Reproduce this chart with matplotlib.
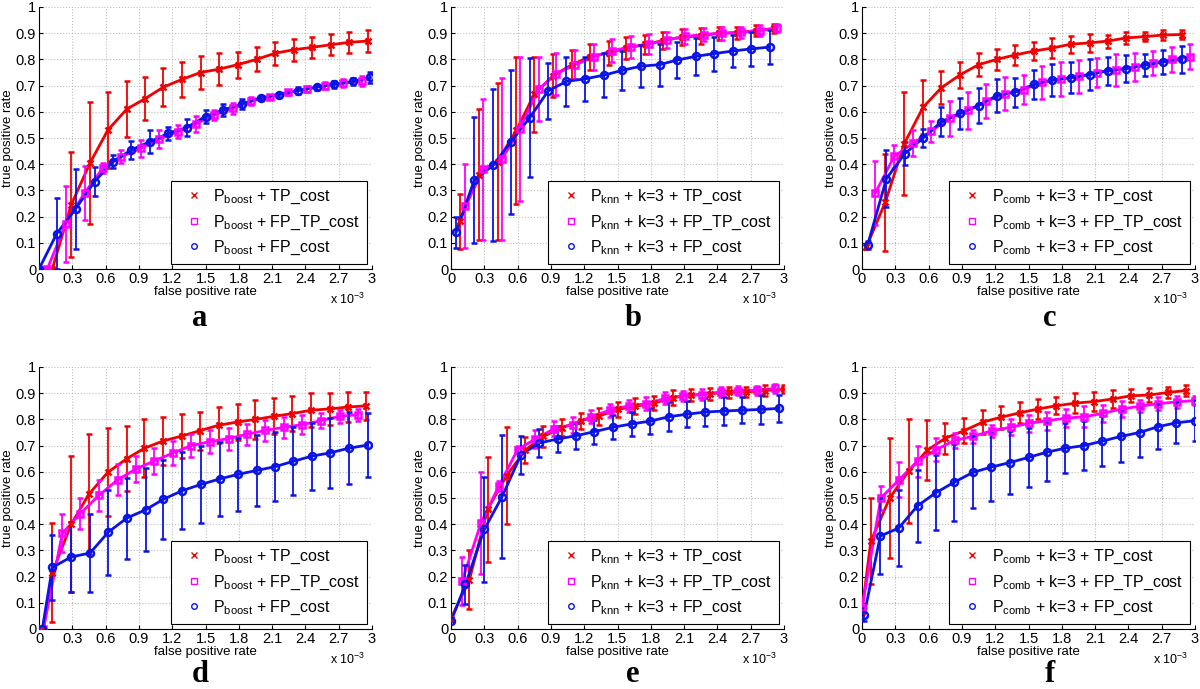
import matplotlib
matplotlib.use("Agg")
import matplotlib.pyplot as plt
from matplotlib.lines import Line2D

plt.rcParams['font.family'] = ['Liberation Sans', 'DejaVu Sans']
plt.rcParams['mathtext.default'] = 'regular'

# ---- data (x in units of 1e-3) ----
# panel a
a_tp_x = [0.12, 0.29, 0.46, 0.62, 0.79, 0.955, 1.12, 1.29, 1.455, 1.625, 1.79, 1.96, 2.13, 2.30, 2.46, 2.63, 2.79, 2.96]
a_tp_y = [0.0, 0.245, 0.405, 0.53, 0.61, 0.65, 0.694, 0.724, 0.75, 0.763, 0.78, 0.80, 0.824, 0.837, 0.846, 0.856, 0.865, 0.87]
a_tp_e = [0.0, 0.2, 0.234, 0.145, 0.108, 0.082, 0.073, 0.067, 0.063, 0.06, 0.05, 0.046, 0.044, 0.042, 0.04, 0.04, 0.039, 0.043]
a_fptp_x = [0.075, 0.24, 0.41, 0.577, 0.74, 0.915, 1.08, 1.25, 1.41, 1.58, 1.75, 1.91, 2.08, 2.245, 2.41, 2.58, 2.74, 2.91]
a_fptp_y = [0.0, 0.173, 0.29, 0.386, 0.428, 0.46, 0.495, 0.524, 0.553, 0.588, 0.613, 0.64, 0.658, 0.675, 0.687, 0.70, 0.709, 0.718]
a_fptp_e = [0.0, 0.145, 0.104, 0.02, 0.025, 0.034, 0.034, 0.025, 0.03, 0.02, 0.02, 0.015, 0.008, 0.01, 0.01, 0.012, 0.015, 0.018]
a_fp_x = [0.0, 0.16, 0.33, 0.50, 0.665, 0.83, 1.0, 1.166, 1.33, 1.5, 1.66, 1.83, 2.0, 2.16, 2.33, 2.5, 2.66, 2.83, 2.985]
a_fp_y = [0.0, 0.135, 0.23, 0.333, 0.41, 0.454, 0.486, 0.518, 0.54, 0.582, 0.607, 0.63, 0.654, 0.665, 0.681, 0.694, 0.705, 0.716, 0.731]
a_fp_e = [0.0, 0.135, 0.153, 0.055, 0.026, 0.034, 0.043, 0.024, 0.032, 0.024, 0.022, 0.02, 0.008, 0.008, 0.012, 0.01, 0.014, 0.014, 0.022]

# panel b
b_tp_x = [0.08, 0.25, 0.42, 0.59, 0.75, 0.92, 1.09, 1.25, 1.42, 1.58, 1.75, 1.91, 2.08, 2.25, 2.41, 2.58, 2.75, 2.91]
b_tp_y = [0.183, 0.36, 0.41, 0.53, 0.667, 0.738, 0.78, 0.81, 0.825, 0.843, 0.857, 0.872, 0.885, 0.89, 0.90, 0.902, 0.91, 0.918]
b_tp_e = [0.105, 0.25, 0.30, 0.28, 0.143, 0.083, 0.055, 0.05, 0.045, 0.043, 0.038, 0.033, 0.03, 0.03, 0.025, 0.023, 0.02, 0.018]
b_fptp_x = [0.13, 0.29, 0.46, 0.62, 0.79, 0.95, 1.12, 1.29, 1.45, 1.62, 1.78, 1.95, 2.11, 2.28, 2.44, 2.61, 2.78, 2.94]
b_fptp_y = [0.24, 0.38, 0.42, 0.535, 0.687, 0.745, 0.78, 0.81, 0.833, 0.848, 0.858, 0.875, 0.888, 0.895, 0.90, 0.903, 0.91, 0.92]
b_fptp_e = [0.16, 0.27, 0.31, 0.275, 0.122, 0.08, 0.055, 0.05, 0.043, 0.043, 0.038, 0.03, 0.028, 0.025, 0.025, 0.022, 0.02, 0.015]
b_fp_x = [0.045, 0.21, 0.38, 0.54, 0.71, 0.876, 1.04, 1.21, 1.38, 1.54, 1.71, 1.88, 2.04, 2.21, 2.37, 2.54, 2.70, 2.87]
b_fp_y = [0.14, 0.34, 0.396, 0.486, 0.578, 0.68, 0.716, 0.726, 0.74, 0.758, 0.774, 0.78, 0.798, 0.812, 0.822, 0.832, 0.84, 0.847]
b_fp_e = [0.06, 0.24, 0.29, 0.275, 0.228, 0.108, 0.095, 0.085, 0.085, 0.075, 0.08, 0.08, 0.07, 0.07, 0.065, 0.06, 0.065, 0.065]

# panel c
c_tp_x = [0.04, 0.21, 0.38, 0.55, 0.715, 0.88, 1.05, 1.215, 1.38, 1.55, 1.71, 1.88, 2.05, 2.215, 2.38, 2.55, 2.71, 2.88]
c_tp_y = [0.085, 0.255, 0.478, 0.617, 0.692, 0.74, 0.78, 0.80, 0.817, 0.832, 0.843, 0.858, 0.863, 0.87, 0.882, 0.887, 0.893, 0.895]
c_tp_e = [0.01, 0.185, 0.197, 0.103, 0.062, 0.05, 0.045, 0.04, 0.037, 0.033, 0.037, 0.033, 0.033, 0.025, 0.022, 0.018, 0.018, 0.018]
c_fptp_x = [0.12, 0.29, 0.46, 0.62, 0.79, 0.955, 1.12, 1.29, 1.455, 1.62, 1.79, 1.955, 2.12, 2.29, 2.455, 2.62, 2.79, 2.955]
c_fptp_y = [0.29, 0.43, 0.48, 0.525, 0.575, 0.605, 0.64, 0.668, 0.685, 0.712, 0.725, 0.735, 0.75, 0.76, 0.77, 0.787, 0.80, 0.81]
c_fptp_e = [0.122, 0.045, 0.05, 0.04, 0.067, 0.07, 0.065, 0.063, 0.055, 0.062, 0.065, 0.063, 0.057, 0.06, 0.053, 0.045, 0.048, 0.048]
c_fp_x = [0.05, 0.22, 0.385, 0.55, 0.715, 0.88, 1.05, 1.215, 1.38, 1.55, 1.715, 1.88, 2.05, 2.215, 2.38, 2.55, 2.71, 2.88]
c_fp_y = [0.09, 0.345, 0.44, 0.50, 0.562, 0.594, 0.624, 0.662, 0.675, 0.705, 0.722, 0.73, 0.742, 0.757, 0.765, 0.778, 0.79, 0.80]
c_fp_e = [0.015, 0.11, 0.043, 0.033, 0.055, 0.058, 0.065, 0.062, 0.055, 0.055, 0.062, 0.06, 0.058, 0.053, 0.05, 0.043, 0.045, 0.053]

# panel d
d_tp_x = [0.04, 0.12, 0.29, 0.45, 0.62, 0.79, 0.95, 1.12, 1.29, 1.45, 1.62, 1.79, 1.95, 2.12, 2.28, 2.45, 2.62, 2.78, 2.95]
d_tp_y = [0.0, 0.215, 0.40, 0.515, 0.598, 0.65, 0.69, 0.718, 0.737, 0.757, 0.778, 0.79, 0.80, 0.812, 0.822, 0.835, 0.84, 0.847, 0.852]
d_tp_e = [0.0, 0.19, 0.26, 0.23, 0.168, 0.125, 0.11, 0.093, 0.083, 0.073, 0.068, 0.07, 0.075, 0.068, 0.068, 0.065, 0.06, 0.058, 0.053]
d_fptp_x = [0.04, 0.21, 0.37, 0.54, 0.71, 0.87, 1.04, 1.21, 1.37, 1.54, 1.71, 1.87, 2.04, 2.21, 2.37, 2.54, 2.71, 2.87]
d_fptp_y = [0.0, 0.365, 0.44, 0.51, 0.57, 0.61, 0.642, 0.672, 0.70, 0.715, 0.727, 0.743, 0.758, 0.77, 0.78, 0.795, 0.812, 0.818]
d_fptp_e = [0.0, 0.073, 0.06, 0.06, 0.06, 0.05, 0.05, 0.047, 0.043, 0.043, 0.042, 0.04, 0.04, 0.04, 0.035, 0.028, 0.025, 0.023]
d_fp_x = [0.03, 0.12, 0.29, 0.46, 0.625, 0.79, 0.96, 1.12, 1.29, 1.46, 1.63, 1.79, 1.96, 2.13, 2.29, 2.46, 2.62, 2.79, 2.96]
d_fp_y = [0.0, 0.235, 0.275, 0.29, 0.37, 0.423, 0.455, 0.495, 0.528, 0.552, 0.573, 0.59, 0.605, 0.62, 0.64, 0.66, 0.672, 0.69, 0.702]
d_fp_e = [0.0, 0.125, 0.135, 0.148, 0.162, 0.155, 0.158, 0.15, 0.148, 0.148, 0.14, 0.138, 0.135, 0.133, 0.13, 0.128, 0.135, 0.138, 0.123]

# panel e
e_tp_x = [0.0, 0.166, 0.33, 0.50, 0.67, 0.83, 1.0, 1.17, 1.33, 1.5, 1.66, 1.83, 2.0, 2.16, 2.33, 2.5, 2.66, 2.83, 3.0]
e_tp_y = [0.04, 0.188, 0.457, 0.585, 0.683, 0.735, 0.768, 0.795, 0.812, 0.838, 0.85, 0.862, 0.883, 0.892, 0.898, 0.903, 0.905, 0.91, 0.915]
e_tp_e = [0.0, 0.113, 0.2, 0.185, 0.048, 0.04, 0.033, 0.03, 0.033, 0.028, 0.03, 0.028, 0.028, 0.023, 0.023, 0.022, 0.02, 0.02, 0.015]
e_fptp_x = [0.1, 0.27, 0.43, 0.6, 0.76, 0.93, 1.1, 1.26, 1.43, 1.6, 1.76, 1.93, 2.09, 2.26, 2.43, 2.59, 2.76, 2.92]
e_fptp_y = [0.183, 0.405, 0.545, 0.685, 0.725, 0.765, 0.78, 0.81, 0.835, 0.852, 0.86, 0.88, 0.89, 0.895, 0.905, 0.91, 0.912, 0.918]
e_fptp_e = [0.093, 0.195, 0.02, 0.013, 0.035, 0.03, 0.03, 0.025, 0.025, 0.023, 0.025, 0.023, 0.02, 0.02, 0.02, 0.018, 0.017, 0.017]
e_fp_x = [0.0, 0.13, 0.30, 0.46, 0.63, 0.795, 0.96, 1.13, 1.29, 1.46, 1.63, 1.79, 1.96, 2.13, 2.29, 2.46, 2.62, 2.79, 2.955]
e_fp_y = [0.03, 0.17, 0.38, 0.505, 0.665, 0.71, 0.725, 0.738, 0.753, 0.77, 0.783, 0.793, 0.81, 0.82, 0.828, 0.832, 0.835, 0.838, 0.842]
e_fp_e = [0.0, 0.073, 0.2, 0.235, 0.073, 0.055, 0.05, 0.05, 0.045, 0.045, 0.047, 0.05, 0.055, 0.05, 0.053, 0.053, 0.05, 0.055, 0.053]

# panel f
f_tp_x = [0.0, 0.08, 0.25, 0.42, 0.59, 0.75, 0.92, 1.09, 1.25, 1.42, 1.59, 1.75, 1.92, 2.09, 2.26, 2.42, 2.59, 2.76, 2.92]
f_tp_y = [0.07, 0.335, 0.50, 0.603, 0.683, 0.728, 0.757, 0.79, 0.808, 0.825, 0.84, 0.852, 0.862, 0.868, 0.878, 0.89, 0.893, 0.903, 0.91]
f_tp_e = [0.0, 0.165, 0.23, 0.198, 0.113, 0.06, 0.048, 0.045, 0.043, 0.04, 0.037, 0.033, 0.037, 0.037, 0.033, 0.025, 0.027, 0.022, 0.02]
f_fptp_x = [0.0, 0.17, 0.335, 0.5, 0.67, 0.835, 1.0, 1.17, 1.34, 1.5, 1.67, 1.84, 2.0, 2.17, 2.34, 2.5, 2.67, 2.84, 3.0]
f_fptp_y = [0.08, 0.50, 0.57, 0.64, 0.685, 0.72, 0.735, 0.757, 0.77, 0.785, 0.795, 0.805, 0.81, 0.823, 0.84, 0.85, 0.86, 0.867, 0.872]
f_fptp_e = [0.0, 0.045, 0.068, 0.058, 0.045, 0.03, 0.025, 0.023, 0.03, 0.033, 0.035, 0.035, 0.04, 0.033, 0.03, 0.023, 0.025, 0.023, 0.018]
f_fp_x = [0.02, 0.165, 0.33, 0.5, 0.665, 0.83, 1.0, 1.165, 1.33, 1.5, 1.665, 1.83, 2.0, 2.165, 2.33, 2.5, 2.665, 2.83, 3.0]
f_fp_y = [0.055, 0.355, 0.385, 0.47, 0.52, 0.56, 0.598, 0.618, 0.635, 0.655, 0.675, 0.69, 0.70, 0.717, 0.735, 0.75, 0.772, 0.787, 0.795]
f_fp_e = [0.025, 0.145, 0.145, 0.138, 0.143, 0.148, 0.138, 0.13, 0.12, 0.113, 0.11, 0.095, 0.093, 0.095, 0.098, 0.095, 0.085, 0.078, 0.078]

x_ticks = [0, 0.3, 0.6, 0.9, 1.2, 1.5, 1.8, 2.1, 2.4, 2.7, 3]
x_tick_labels = ['0', '0.3', '0.6', '0.9', '1.2', '1.5', '1.8', '2.1', '2.4', '2.7', '3']
y_ticks = [0, 0.1, 0.2, 0.3, 0.4, 0.5, 0.6, 0.7, 0.8, 0.9, 1]
y_tick_labels = ['0', '0.1', '0.2', '0.3', '0.4', '0.5', '0.6', '0.7', '0.8', '0.9', '1']

cost_names = ['TP_cost', 'FP_TP_cost', 'FP_cost']
prefixes = {
    'boost': r'P$_{boost}$ + ',
    'knn': r'P$_{knn}$ + k=3 + ',
    'comb': r'P$_{comb}$ + k=3 + ',
}

RED = '#f00000'
MAG = '#ff00ff'
BLUE = '#0a14e6'
styles = [(RED, 'x'), (MAG, 's'), (BLUE, 'o')]

panels = [
    ('a', 'boost', [(a_tp_x, a_tp_y, a_tp_e), (a_fptp_x, a_fptp_y, a_fptp_e), (a_fp_x, a_fp_y, a_fp_e)]),
    ('b', 'knn', [(b_tp_x, b_tp_y, b_tp_e), (b_fptp_x, b_fptp_y, b_fptp_e), (b_fp_x, b_fp_y, b_fp_e)]),
    ('c', 'comb', [(c_tp_x, c_tp_y, c_tp_e), (c_fptp_x, c_fptp_y, c_fptp_e), (c_fp_x, c_fp_y, c_fp_e)]),
    ('d', 'boost', [(d_tp_x, d_tp_y, d_tp_e), (d_fptp_x, d_fptp_y, d_fptp_e), (d_fp_x, d_fp_y, d_fp_e)]),
    ('e', 'knn', [(e_tp_x, e_tp_y, e_tp_e), (e_fptp_x, e_fptp_y, e_fptp_e), (e_fp_x, e_fp_y, e_fp_e)]),
    ('f', 'comb', [(f_tp_x, f_tp_y, f_tp_e), (f_fptp_x, f_fptp_y, f_fptp_e), (f_fp_x, f_fp_y, f_fp_e)]),
]

W, H = 1200, 689
fig = plt.figure(figsize=(W / 100, H / 100), dpi=100)

lefts = [39, 451, 862]
bottoms = [269, 629]
ax_w, ax_h = 333, 262
letter_x = [200, 633, 1050]
letter_y = [318, 674]

for i, (letter, pref, series) in enumerate(panels):
    row, col = divmod(i, 3)
    ax = fig.add_axes([lefts[col] / W, (H - bottoms[row]) / H, ax_w / W, ax_h / H])

    for (xs, ys, es), (color, mk) in zip(series, styles):
        ax.plot(xs, ys, '-', color=color, lw=2.0, zorder=3)
        ax.errorbar(xs, ys, yerr=es, fmt=mk, color=color, ecolor=color,
                    elinewidth=1.3, capsize=2.5, capthick=1.3,
                    ms=5, mfc='none', mew=1.8, zorder=3)

    ax.set_xlim(0, 3)
    ax.set_ylim(0, 1)
    ax.set_xticks(x_ticks)
    ax.set_xticklabels(x_tick_labels)
    ax.set_yticks(y_ticks)
    ax.set_yticklabels(y_tick_labels)
    ax.tick_params(direction='in', length=3, labelsize=10.5, pad=2)
    for s in ['top', 'right']:
        ax.spines[s].set_visible(False)
    ax.grid(True, ls=':', color='#bdbdbd', lw=0.8)
    ax.set_axisbelow(True)
    ax.set_xlabel('false positive rate', fontsize=9.5, labelpad=0)
    ax.set_ylabel('true positive rate', fontsize=9.5, labelpad=1)
    ax.text(0.98, -0.115, r'x 10$^{-3}$', transform=ax.transAxes,
            ha='right', va='center', fontsize=9)

    handles = [Line2D([], [], ls='none', marker=mk, color=c, mfc='none',
                      ms=4, mew=1) for c, mk in styles]
    labels = [prefixes[pref] + n for n in cost_names]
    leg = ax.legend(handles, labels, loc='lower right', fontsize=11.5,
                    fancybox=False, framealpha=1, edgecolor='black',
                    borderaxespad=0.3, borderpad=0.45, labelspacing=0.45,
                    handlelength=2.0, handletextpad=0.2)
    leg.get_frame().set_linewidth(0.8)

    fig.text(letter_x[col] / W, 1 - letter_y[row] / H, letter,
             family='Liberation Serif', weight='bold', fontsize=22,
             ha='center', va='center')

fig.savefig('out.png', dpi=100, facecolor='white')
